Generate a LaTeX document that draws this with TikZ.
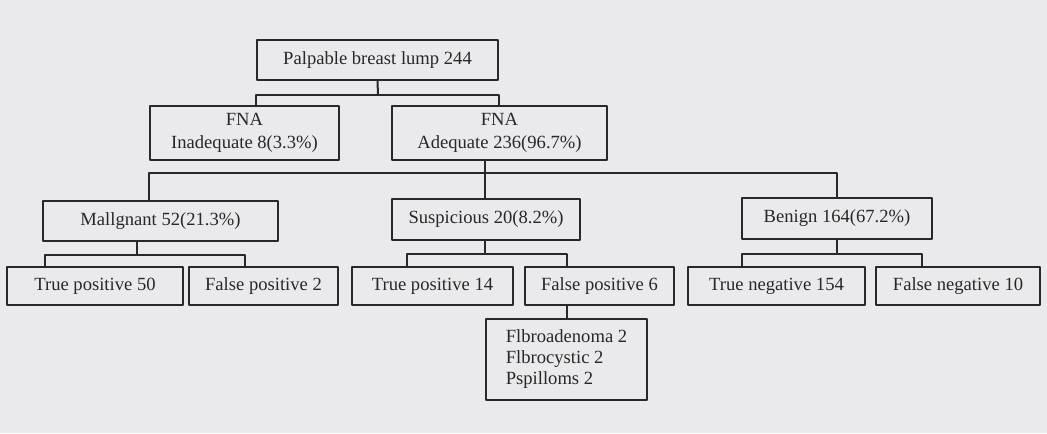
\documentclass[tikz,border=0pt]{standalone}
\usepackage{fontspec}
\setmainfont{Liberation Serif}
\usetikzlibrary{positioning}
\definecolor{scangray}{RGB}{234,234,236}
\definecolor{inkgray}{RGB}{40,40,40}

\begin{document}
\begin{tikzpicture}[x=0.5pt,y=-0.5pt,line cap=round,line join=round,
  box/.style={draw=inkgray,line width=1pt,inner sep=0pt,text=inkgray,align=center,
    font=\fontsize{9.3}{11.5}\selectfont},
  link/.style={draw=inkgray,line width=1pt}]
\fill[scangray] (0,0) rectangle (1047,433);
\useasboundingbox (0,0) rectangle (1047,433);
\node[box,minimum width=120.5pt,minimum height=20pt] (root) at (377.5,60) {Palpable breast lump 244};
\node[box,minimum width=94.5pt,minimum height=27pt] (inad) at (244.5,133) {FNA\\Inadequate 8(3.3\%)};
\node[box,minimum width=107.5pt,minimum height=27pt] (adeq) at (499.5,133) {FNA\\Adequate 236(96.7\%)};
\node[box,minimum width=117.5pt,minimum height=20pt] (mal) at (160.5,221) {Mallgnant 52(21.3\%)};
\node[box,minimum width=94pt,minimum height=20.5pt] (susp) at (486,219.5) {Suspicious 20(8.2\%)};
\node[box,minimum width=95pt,minimum height=20.5pt] (beni) at (837,218.5) {Benign 164(67.2\%)};
\node[box,minimum width=88pt,minimum height=19pt] (tpa) at (95,286) {True positive 50};
\node[box,minimum width=74.5pt,minimum height=19pt] (fpa) at (263.5,286) {False positive 2};
\node[box,minimum width=80.5pt,minimum height=19pt] (tpb) at (432.5,286) {True positive 14};
\node[box,minimum width=74.5pt,minimum height=19pt] (fpb) at (599.5,286) {False positive 6};
\node[box,minimum width=88.5pt,minimum height=19pt] (tneg) at (776.5,286) {True negative 154};
\node[box,minimum width=82pt,minimum height=19pt] (fneg) at (958,286) {False negative 10};
\node[box,minimum width=80.5pt,minimum height=40.5pt,align=left,
  font=\fontsize{9.3}{10.5}\selectfont] (fib) at (566.5,359.5) {Flbroadenoma 2\\Flbrocystic 2\\Pspilloms 2};
\coordinate (b1) at (378,95);
\draw[link] (root.south) -- (b1);
\draw[link] (root.west |- inad.north) |- (b1) -| (root.east |- adeq.north);
\coordinate (b2) at (485,173);
\draw[link] (b2 |- adeq.south) -- (b2 |- susp.north);
\draw[link] (inad.west |- mal.north) |- (b2) -| (beni.north);
\coordinate (b3) at (137,255);
\coordinate (b3l) at (45,255);
\coordinate (b3r) at (245,255);
\draw[link] (b3 |- mal.south) -- (b3);
\draw[link] (b3l |- tpa.north) -- (b3l) -- (b3r) -- (b3r |- fpa.north);
\coordinate (b4) at (485,254);
\coordinate (b4l) at (407,254);
\coordinate (b4r) at (567,254);
\draw[link] (b4 |- susp.south) -- (b4);
\draw[link] (b4l |- tpb.north) -- (b4l) -- (b4r) -- (b4r |- fpb.north);
\coordinate (b5) at (837,254);
\coordinate (b5l) at (742,254);
\coordinate (b5r) at (922,254);
\draw[link] (beni.south) -- (b5);
\draw[link] (b5l |- tneg.north) -- (b5l) -- (b5r) -- (b5r |- fneg.north);
\draw[link] (fib.north |- fpb.south) -- (fib.north);
\end{tikzpicture}
\end{document}
